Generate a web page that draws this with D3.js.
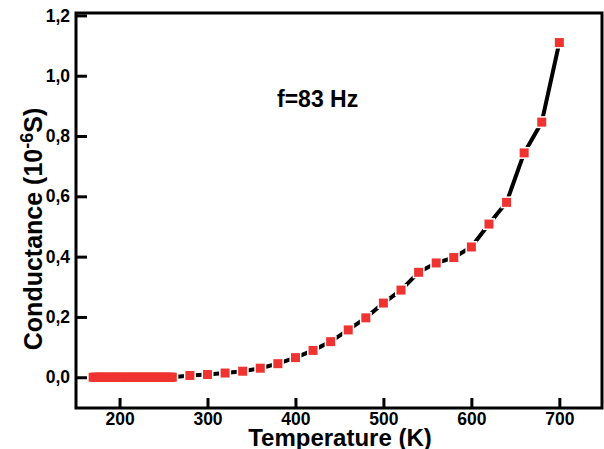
<!DOCTYPE html>
<html>
<head>
<meta charset="utf-8">
<script src="https://cdn.jsdelivr.net/npm/d3@7"></script>
<style>
  html, body { margin: 0; padding: 0; background: #fff; }
  svg { display: block; }
  text { font-family: "Liberation Sans", Arial, Helvetica, sans-serif; font-weight: bold; }
</style>
</head>
<body>
<svg id="chart" width="604" height="449"></svg>
<script>
// ---- Data ----
const temperature = [
  170, 172, 174, 176, 178, 180, 182, 184, 186, 188,
  190, 192, 194, 196, 198, 200, 202, 204, 206, 208,
  210, 212, 214, 216, 218, 220, 222, 224, 226, 228,
  230, 232, 234, 236, 238, 240, 242, 244, 246, 248,
  250, 252, 254, 256, 258, 260,
  280, 300, 320, 340, 360, 380, 400, 420, 440, 460,
  480, 500, 520, 540, 560, 580, 600, 620, 640, 660,
  680, 700
];
const conductance = [
  0.000, 0.000, 0.000, 0.000, 0.000, 0.000, 0.000, 0.000, 0.000, 0.000,
  0.000, 0.000, 0.000, 0.000, 0.000, 0.000, 0.000, 0.000, 0.000, 0.000,
  0.000, 0.000, 0.000, 0.000, 0.000, 0.000, 0.000, 0.000, 0.000, 0.000,
  0.000, 0.000, 0.000, 0.000, 0.000, 0.000, 0.000, 0.000, 0.000, 0.000,
  0.000, 0.000, 0.000, 0.000, 0.000, 0.000,
  0.006, 0.009, 0.014, 0.020, 0.030, 0.045, 0.065, 0.089, 0.118, 0.157,
  0.197, 0.246, 0.289, 0.348, 0.379, 0.397, 0.432, 0.508, 0.580, 0.744,
  0.846, 1.110
];
const xTicks = [200, 300, 400, 500, 600, 700];
const yTicks = [0.0, 0.2, 0.4, 0.6, 0.8, 1.0, 1.2];
const annotation = "f=83 Hz";

// ---- Layout ----
const svg = d3.select("#chart");
const plot = { left: 76, right: 602, top: 13, bottom: 408 };

const x = d3.scaleLinear().domain([150.5, 748.5]).range([plot.left, plot.right]);
const y = d3.scaleLinear().domain([-0.102, 1.208]).range([plot.bottom, plot.top]);

const fmtY = v => d3.format(".1f")(v).replace(".", ",");

// Axes (ticks pointing inward)
const gx = svg.append("g")
  .attr("transform", `translate(0,${plot.bottom})`)
  .call(d3.axisBottom(x).tickValues(xTicks).tickSizeInner(-10).tickSizeOuter(0).tickPadding(5));
const gy = svg.append("g")
  .attr("transform", `translate(${plot.left},0)`)
  .call(d3.axisLeft(y).tickValues(yTicks).tickFormat(fmtY).tickSizeInner(-11).tickSizeOuter(0).tickPadding(6));

[gx, gy].forEach(g => {
  g.select(".domain").remove();
  g.selectAll(".tick line").attr("stroke", "#000").attr("stroke-width", 3);
  g.selectAll(".tick text").attr("fill", "#000").style("font-size", "17.5px").style("font-weight", "bold")
    .style("font-family", "'Liberation Sans', Arial, sans-serif");
});

// Frame
svg.append("rect")
  .attr("x", plot.left).attr("y", plot.top)
  .attr("width", plot.right - plot.left).attr("height", plot.bottom - plot.top)
  .attr("fill", "none").attr("stroke", "#000").attr("stroke-width", 3);

// Line
const pts = temperature.map((t, i) => [t, conductance[i]]);
svg.append("path")
  .datum(pts)
  .attr("fill", "none")
  .attr("stroke", "#000")
  .attr("stroke-width", 4)
  .attr("stroke-linejoin", "round")
  .attr("d", d3.line().x(d => x(d[0])).y(d => y(d[1])));

// Markers: white halo underneath, then red squares on top
const ms = 9, halo = 1.5;
const mk = svg.append("g");
mk.append("g").selectAll("rect")
  .data(pts)
  .join("rect")
  .attr("x", d => x(d[0]) - ms / 2 - halo)
  .attr("y", d => y(d[1]) - ms / 2 - halo)
  .attr("width", ms + 2 * halo).attr("height", ms + 2 * halo)
  .attr("fill", "#fff");
mk.append("g").selectAll("rect")
  .data(pts)
  .join("rect")
  .attr("x", d => x(d[0]) - ms / 2)
  .attr("y", d => y(d[1]) - ms / 2)
  .attr("width", ms).attr("height", ms)
  .attr("fill", "#ee3330");

// Annotation
svg.append("text")
  .attr("x", 277).attr("y", 107)
  .style("font-size", "23px")
  .attr("fill", "#000")
  .text(annotation);

// Axis titles
svg.append("text")
  .attr("x", 340).attr("y", 446)
  .attr("text-anchor", "middle")
  .style("font-size", "24px")
  .attr("fill", "#000")
  .text("Temperature (K)");

const yl = svg.append("text")
  .attr("transform", "translate(42,229) rotate(-90)")
  .attr("text-anchor", "middle")
  .style("font-size", "25px")
  .attr("fill", "#000");
yl.append("tspan").text("Conductance (10");
yl.append("tspan").attr("dy", -9).style("font-size", "18px").text("-6");
yl.append("tspan").attr("dy", 9).text("S)");
</script>
</body>
</html>
